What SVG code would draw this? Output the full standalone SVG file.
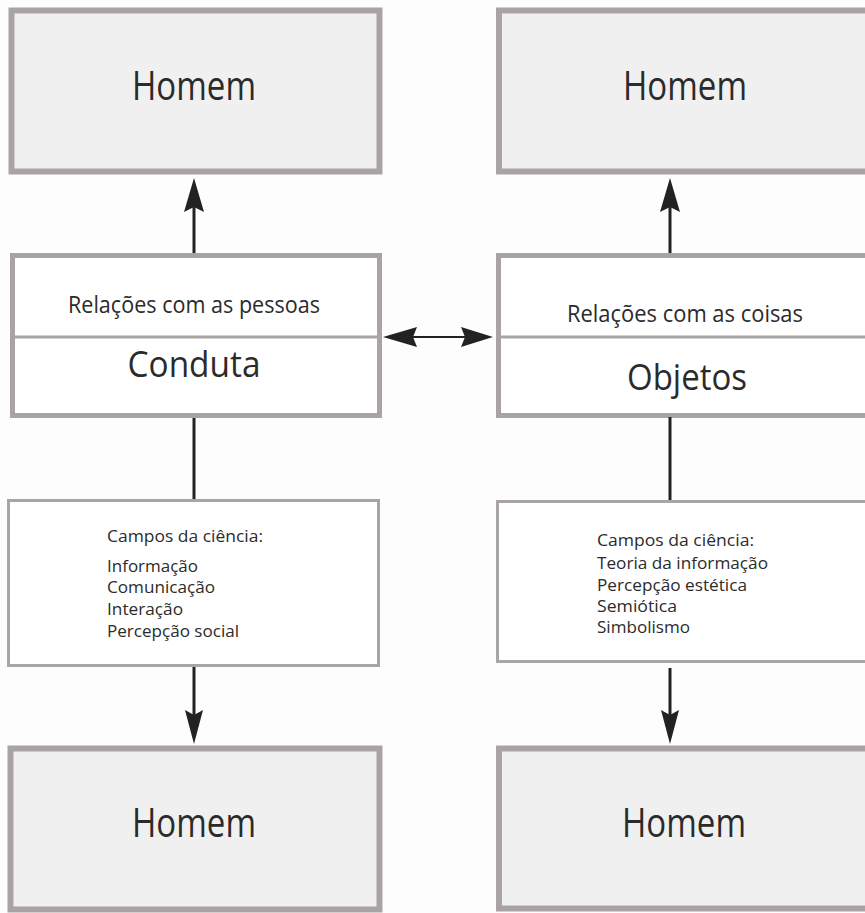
<svg xmlns="http://www.w3.org/2000/svg" width="865" height="913" viewBox="0 0 865 913">
<style>
  .bg { fill: #fdfdfd; }
  .homem { fill: #f0f0f0; stroke: #a9a3a3; stroke-width: 6; }
  .mid { fill: #ffffff; stroke: #a9a3a3; stroke-width: 5; }
  .div { stroke: #a9a3a3; stroke-width: 3; }
  .txtbox { fill: #ffffff; stroke: #aaa5a5; stroke-width: 3; }
  text { font-family: "Open Sans", "Liberation Sans", sans-serif; fill: #2b2b2b; }
  .big { font-size: 41px; text-anchor: middle; }
  .title { font-size: 37px; text-anchor: middle; }
  .rel { font-size: 23px; text-anchor: middle; }
  .small { font-size: 17px; }
  .conn { stroke: #222222; stroke-width: 3; fill: none; }
  .thin { stroke: #222222; stroke-width: 2; fill: none; }
  .head { fill: #222222; }
</style>
<rect class="bg" x="0" y="0" width="865" height="913"/>

<g id="homem-top-left">
  <rect class="homem" x="11.5" y="10.5" width="368" height="161"/>
  <text class="big" x="194" y="100" textLength="124" lengthAdjust="spacingAndGlyphs">Homem</text>
</g>
<g id="homem-top-right">
  <rect class="homem" x="499" y="10.5" width="380" height="161"/>
  <text class="big" x="685" y="100" textLength="124" lengthAdjust="spacingAndGlyphs">Homem</text>
</g>

<g id="conduta">
  <rect class="mid" x="12.5" y="255.5" width="367" height="160"/>
  <line class="div" x1="12.5" y1="337" x2="379.5" y2="337"/>
  <text class="rel" x="194" y="313" textLength="252" lengthAdjust="spacingAndGlyphs">Relações com as pessoas</text>
  <text class="title" x="194" y="377" textLength="133" lengthAdjust="spacingAndGlyphs">Conduta</text>
</g>
<g id="objetos">
  <rect class="mid" x="498.5" y="255.5" width="380" height="160"/>
  <line class="div" x1="498.5" y1="337" x2="878.5" y2="337"/>
  <text class="rel" x="685" y="322" textLength="236" lengthAdjust="spacingAndGlyphs">Relações com as coisas</text>
  <text class="title" x="687" y="390" textLength="120" lengthAdjust="spacingAndGlyphs">Objetos</text>
</g>

<g id="campos-left">
  <rect class="txtbox" x="8.5" y="500.5" width="370" height="165"/>
  <text class="small" x="107" y="542" textLength="156" lengthAdjust="spacingAndGlyphs">Campos da ciência:</text>
  <text class="small" x="107" y="572" textLength="91" lengthAdjust="spacingAndGlyphs">Informação</text>
  <text class="small" x="107" y="593" textLength="108" lengthAdjust="spacingAndGlyphs">Comunicação</text>
  <text class="small" x="107" y="615" textLength="76" lengthAdjust="spacingAndGlyphs">Interação</text>
  <text class="small" x="107" y="637" textLength="132" lengthAdjust="spacingAndGlyphs">Percepção social</text>
</g>
<g id="campos-right">
  <rect class="txtbox" x="497.5" y="501.5" width="380" height="160"/>
  <text class="small" x="597" y="546" textLength="157" lengthAdjust="spacingAndGlyphs">Campos da ciência:</text>
  <text class="small" x="597" y="569" textLength="171" lengthAdjust="spacingAndGlyphs">Teoria da informação</text>
  <text class="small" x="597" y="591" textLength="150" lengthAdjust="spacingAndGlyphs">Percepção estética</text>
  <text class="small" x="597" y="612" textLength="80" lengthAdjust="spacingAndGlyphs">Semiótica</text>
  <text class="small" x="597" y="633" textLength="93" lengthAdjust="spacingAndGlyphs">Simbolismo</text>
</g>

<g id="homem-bottom-left">
  <rect class="homem" x="10.5" y="748.5" width="369" height="161"/>
  <text class="big" x="194" y="837" textLength="124" lengthAdjust="spacingAndGlyphs">Homem</text>
</g>
<g id="homem-bottom-right">
  <rect class="homem" x="499" y="748.5" width="380" height="160"/>
  <text class="big" x="684" y="837" textLength="124" lengthAdjust="spacingAndGlyphs">Homem</text>
</g>

<g id="connectors">
  <line class="conn" x1="194" y1="253" x2="194" y2="205"/>
  <polygon class="head" points="194,178 204,212 194,207 184,212"/>
  <line class="conn" x1="194" y1="418" x2="194" y2="499"/>
  <line class="conn" x1="194" y1="667" x2="194" y2="715"/>
  <polygon class="head" points="194,744 203,710 194,715 185,710"/>
  <line class="conn" x1="670" y1="253" x2="670" y2="205"/>
  <polygon class="head" points="670,178 680,212 670,207 660,212"/>
  <line class="conn" x1="670" y1="417" x2="670" y2="500"/>
  <line class="conn" x1="670" y1="668" x2="670" y2="715"/>
  <polygon class="head" points="670,744 679,710 670,715 661,710"/>
  <line class="thin" x1="410" y1="337" x2="468" y2="337"/>
  <polygon class="head" points="383,337 417,327 413,337 417,347"/>
  <polygon class="head" points="493,337 461,327 465,337 461,347"/>
</g>
</svg>
